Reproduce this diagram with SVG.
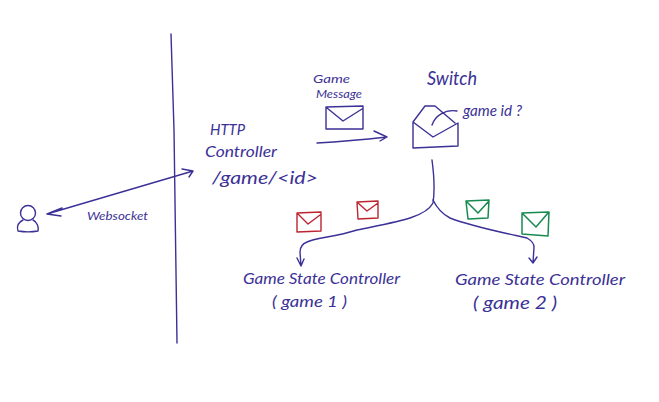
<svg xmlns="http://www.w3.org/2000/svg" width="659" height="402" viewBox="0 0 659 402">
<style>
.l{fill:none;stroke:#3b3196;stroke-width:1.4;stroke-linecap:round;stroke-linejoin:round}
.r{fill:none;stroke:#bb2530;stroke-width:1.4;stroke-linecap:round;stroke-linejoin:round}
.g{fill:none;stroke:#178a50;stroke-width:1.5;stroke-linecap:round;stroke-linejoin:round}
text{font-family:"Lato","Open Sans",sans-serif;font-style:italic;fill:#3b3196}
.s{font-size:12px}.m{font-size:15px}.b{font-size:17px}.x{font-size:20px}
</style>
<rect width="659" height="402" fill="#fff"/>
<g id="connectors">
<path class="l" d="M171 34L174 130L177 343"/>
<path class="l" d="M47 214L193 171M62 208L47 214L61 216M182 169L193 171L189 177"/>
<path class="l" d="M317 143Q350 141 387 137M374 131L387 137L380 141"/>
<path class="l" d="M432 160C434 175 435 190 433 203C425 218 395 222 357 230C335 237 315 238 307 242C302 244 300 248 300 252L301 266M297 258L301 266L304 259"/>
<path class="l" d="M433 200C438 210 444 215 450 218C470 226 500 232 527 238C532 241 534 244 534 247L533 263M529 258L533 263L537 257"/>
</g>
<g id="user"><circle class="l" cx="28" cy="213" r="7.5"/><path class="l" d="M23 220C17 223 17 228 18 231C24 232 32 232 38 231C39 227 37 222 33 220"/></g>
<g id="websocket"><text class="s" x="87" y="220" textLength="61" lengthAdjust="spacingAndGlyphs">Websocket</text></g>
<g id="http-controller">
<text class="m" x="210" y="135" textLength="35" lengthAdjust="spacingAndGlyphs">HTTP</text>
<text class="m" x="205" y="157" textLength="72" lengthAdjust="spacingAndGlyphs">Controller</text>
<text class="b" x="212" y="184" textLength="106" lengthAdjust="spacingAndGlyphs">/game/&lt;id&gt;</text>
</g>
<g id="game-message">
<text class="s" x="313" y="83" textLength="37" lengthAdjust="spacingAndGlyphs">Game</text>
<text class="s" x="316" y="98" textLength="46" lengthAdjust="spacingAndGlyphs">Message</text>
<path class="l" d="M326 107L363 106L363 129L326 129ZM327 108L343 121L362 109"/>
</g>
<g id="switch">
<text class="x" x="427" y="85" textLength="50" lengthAdjust="spacingAndGlyphs">Switch</text>
<path class="l" d="M413 122L413 148L458 146L458 123L433 137L413 122L425 106L435 106L455 123M432 125C435 116 445 109 457 111"/>
<text class="m" x="463" y="116" textLength="59" lengthAdjust="spacingAndGlyphs">game id ?</text>
</g>
<g id="message-red-1"><path class="r" d="M297 213L321 212L321 231L297 232ZM298 214L308 224L320 215"/></g>
<g id="message-red-2"><path class="r" d="M357 202L378 201L378 218L358 219ZM358 203L367 211L378 203"/></g>
<g id="message-green-1"><path class="g" d="M466 201L489 200L488 218L468 219ZM467 202L478 213L488 202"/></g>
<g id="message-green-2"><path class="g" d="M522 213L549 212L548 236L522 234ZM523 214L536 227L548 213"/></g>
<g id="controller-1">
<text class="m" x="243" y="284" textLength="157" lengthAdjust="spacingAndGlyphs">Game State Controller</text>
<text class="m" x="272" y="307" textLength="75" lengthAdjust="spacingAndGlyphs">( game 1 )</text>
</g>
<g id="controller-2">
<text class="m" x="455" y="285" textLength="170" lengthAdjust="spacingAndGlyphs">Game State Controller</text>
<text class="b" x="473" y="309" textLength="84" lengthAdjust="spacingAndGlyphs">( game 2 )</text>
</g>
</svg>
